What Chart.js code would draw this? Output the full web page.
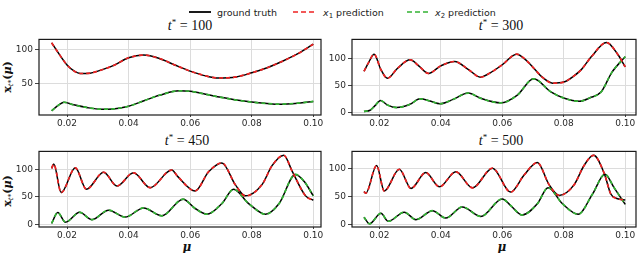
<!DOCTYPE html>
<html>
<head>
<meta charset="utf-8">
<script src="https://cdn.jsdelivr.net/npm/chart.js@4.4.1/dist/chart.umd.min.js"></script>
<style>
body { margin: 0; background: #fff; width: 640px; height: 253px; overflow: hidden; position: relative; font-family: "DejaVu Sans", sans-serif; }
canvas { position: absolute; }
.lg { position: absolute; top: 6px; font-size: 9.5px; line-height: 13px; color: #222; white-space: nowrap; }
.lg sub { font-size: 7px; vertical-align: -2px; }
.lgline { position: absolute; top: 9px; }
.title { position: absolute; font-family: "Liberation Serif", serif; font-size: 14px; transform: translate(-50%, -50%); white-space: nowrap; color: #111; }
.title sup { font-size: 9px; vertical-align: 5px; }
.ylab { position: absolute; font-family: "DejaVu Serif", serif; font-weight: bold; font-size: 11px; transform: translate(-50%, -50%) rotate(-90deg); white-space: nowrap; color: #111; }
.ylab sub { font-size: 7px; font-weight: normal; font-style: italic; vertical-align: -2px; }
.xlab { position: absolute; font-family: "DejaVu Serif", serif; font-weight: bold; font-style: italic; font-size: 12px; transform: translate(-50%, -50%); color: #111; }
</style>
</head>
<body>
<svg class="lgline" style="left:189px" width="22" height="6"><line x1="0" y1="3" x2="22" y2="3" stroke="#000" stroke-width="1.8"/></svg>
<div class="lg" style="left:217px">ground truth</div>
<svg class="lgline" style="left:293px" width="24" height="6"><line x1="0" y1="3" x2="24" y2="3" stroke="#ee2222" stroke-width="1.6" stroke-dasharray="5,3"/></svg>
<div class="lg" style="left:323px"><i>x</i><sub>1</sub> prediction</div>
<svg class="lgline" style="left:407px" width="24" height="6"><line x1="0" y1="3" x2="24" y2="3" stroke="#33b333" stroke-width="1.6" stroke-dasharray="5,3"/></svg>
<div class="lg" style="left:435px"><i>x</i><sub>2</sub> prediction</div>

<div class="title" style="left:190px;top:25px"><i>t</i><sup>*</sup> = 100</div>
<div class="title" style="left:501px;top:25px"><i>t</i><sup>*</sup> = 300</div>
<div class="title" style="left:187px;top:140px"><i>t</i><sup>*</sup> = 450</div>
<div class="title" style="left:501px;top:140px"><i>t</i><sup>*</sup> = 500</div>

<div class="ylab" style="left:8px;top:77px">x<sub>t*</sub>(<i>μ</i>)</div>
<div class="ylab" style="left:8px;top:191px">x<sub>t*</sub>(<i>μ</i>)</div>
<div class="xlab" style="left:187px;top:247px">μ</div>
<div class="xlab" style="left:502px;top:247px">μ</div>

<canvas id="c1"></canvas>
<canvas id="c2"></canvas>
<canvas id="c3"></canvas>
<canvas id="c4"></canvas>

<script>
// tick values
var xTicks = [0.02, 0.04, 0.06, 0.08, 0.10];
var yTicksTop = [50, 100];
var yTicks = [0, 50, 100];

// t* = 100
var p1Mu1 = [0.015, 0.0175, 0.02, 0.0225, 0.0243, 0.0275, 0.03, 0.035, 0.04, 0.0449, 0.05, 0.055, 0.06, 0.065, 0.069, 0.075, 0.08, 0.085, 0.09, 0.095, 0.10];
var p1X1 = [110, 93, 77.5, 68, 65, 65.5, 68.5, 76.5, 88, 92, 87, 77.5, 68.5, 61.5, 58.4, 60, 66, 73.5, 83, 94, 108];
var p1Mu2 = [0.015, 0.0168, 0.019, 0.0222, 0.0265, 0.031, 0.035, 0.04, 0.045, 0.05, 0.0565, 0.06, 0.065, 0.07, 0.075, 0.08, 0.085, 0.089, 0.095, 0.10];
var p1X2 = [10.3, 17, 22.8, 19, 15, 12.6, 13, 17, 25, 33, 39.5, 38.8, 34.6, 30, 26, 23, 21, 20, 21.5, 24];

// t* = 300
var p2Mu1 = [0.015, 0.0165, 0.0183, 0.0205, 0.0226, 0.026, 0.030, 0.033, 0.0359, 0.040, 0.0445, 0.049, 0.0529, 0.0562, 0.06, 0.0647, 0.068, 0.0705, 0.073, 0.0764, 0.08, 0.083, 0.0857, 0.089, 0.0939, 0.0977, 0.10];
var p2X1 = [76, 92, 107.5, 79, 63, 82, 97, 85, 72, 86, 94, 79, 65, 73.5, 88, 107.5, 95, 80, 65, 54, 56, 66, 79, 103, 129, 106, 84];
var p2Mu2 = [0.015, 0.017, 0.0185, 0.0204, 0.0225, 0.0256, 0.030, 0.0332, 0.0365, 0.0397, 0.044, 0.0489, 0.053, 0.0595, 0.0649, 0.0702, 0.0758, 0.0802, 0.0851, 0.0885, 0.0922, 0.0956, 0.10];
var p2X2 = [1.8, 4, 12, 22, 14, 9, 15, 25, 21, 16, 24, 35.6, 26, 17.6, 32, 62, 38, 26, 20.6, 27, 38, 73.5, 103];

// t* = 450
var p3Mu1 = [0.015, 0.0157, 0.0181, 0.0227, 0.0263, 0.0319, 0.0362, 0.0416, 0.047, 0.054, 0.056, 0.0616, 0.066, 0.0703, 0.0747, 0.0779, 0.0834, 0.0866, 0.0904, 0.0932, 0.0975, 0.10];
var p3X1 = [102, 110, 58, 103, 64, 95, 70, 94, 67, 99, 87, 61, 96, 112, 72, 52, 73, 107, 126, 96, 52, 44];
var p3Mu2 = [0.015, 0.017, 0.0195, 0.0241, 0.0281, 0.0335, 0.0389, 0.0449, 0.0508, 0.0577, 0.0616, 0.0654, 0.0703, 0.0741, 0.079, 0.0845, 0.0889, 0.0942, 0.097, 0.10];
var p3X2 = [2, 21.5, 4, 22, 8.7, 26, 13.4, 30, 15.7, 46, 29, 18.6, 38, 64, 38, 18.6, 38, 91, 78.5, 52];

// t* = 500
var p4Mu1 = [0.015, 0.0156, 0.0191, 0.0216, 0.0265, 0.0303, 0.0351, 0.0395, 0.0449, 0.0503, 0.0568, 0.0627, 0.0671, 0.0714, 0.0752, 0.0785, 0.0834, 0.0866, 0.0897, 0.0932, 0.0953, 0.0975, 0.10];
var p4X1 = [59, 56, 105.7, 60, 99, 64.6, 93, 67.4, 94.3, 65.7, 101, 58, 88.6, 111, 71.4, 52, 71.4, 105.7, 124, 91, 54.6, 46, 44];
var p4Mu2 = [0.015, 0.0168, 0.0205, 0.0229, 0.0281, 0.0319, 0.0373, 0.0416, 0.047, 0.053, 0.06, 0.0627, 0.0665, 0.0714, 0.0749, 0.0796, 0.0847, 0.0893, 0.0934, 0.0964, 0.10];
var p4X2 = [13, 1.1, 20, 5.7, 22, 8.6, 24.6, 11.4, 31.4, 14.3, 45.7, 34, 17, 37, 65.7, 37, 18.3, 54, 90, 65.7, 36];

var RED = '#ee2222', GREEN = '#33b333';

function toPoints(mu, val) {
    var out = [];
    for (var i = 0; i < mu.length; i++) {
        out.push({x: mu[i], y: val[i]});
    }
    return out;
}

var framePlugin = {
    id: 'frame',
    afterDraw: function(chart) {
        var a = chart.chartArea, ctx = chart.ctx;
        ctx.save();
        ctx.strokeStyle = '#1a1a1a';
        ctx.lineWidth = 1.2;
        ctx.strokeRect(a.left, a.top, a.right - a.left, a.bottom - a.top);
        ctx.restore();
    }
};

// box = chart area in page pixels
function makePanel(id, box, xr, yr, yT, mu1, x1, mu2, x2) {
    var yAxisW = 30, padTop = 4, padRight = 4, xAxisH = 14;
    var canvas = document.getElementById(id);
    var w = box.r - box.l + yAxisW + padRight;
    var h = box.b - box.t + padTop + xAxisH;
    canvas.width = w;
    canvas.height = h;
    canvas.style.left = (box.l - yAxisW) + 'px';
    canvas.style.top = (box.t - padTop) + 'px';
    canvas.style.width = w + 'px';
    canvas.style.height = h + 'px';

    var line = function(data, color, width, dash, order) {
        return {
            data: data,
            borderColor: color,
            borderWidth: width,
            borderDash: dash,
            pointRadius: 0,
            fill: false,
            cubicInterpolationMode: 'monotone',
            order: order
        };
    };

    new Chart(canvas.getContext('2d'), {
        type: 'line',
        data: {
            datasets: [
                line(toPoints(mu1, x1), RED, 1.7, [4, 3], 0),
                line(toPoints(mu2, x2), GREEN, 1.7, [4, 3], 0),
                line(toPoints(mu1, x1), '#000', 1.5, [], 1),
                line(toPoints(mu2, x2), '#000', 1.5, [], 1)
            ]
        },
        options: {
            responsive: false,
            animation: false,
            devicePixelRatio: 1,
            layout: { padding: { top: padTop, right: padRight, left: 0, bottom: 0 } },
            plugins: { legend: { display: false }, tooltip: { enabled: false }, title: { display: false } },
            scales: {
                x: {
                    type: 'linear',
                    min: xr[0],
                    max: xr[1],
                    afterBuildTicks: function(s) { s.ticks = xTicks.map(function(v) { return {value: v}; }); },
                    afterFit: function(s) { s.height = xAxisH; },
                    grid: { color: '#dcdcdc', lineWidth: 1, drawTicks: true, tickLength: 2, tickColor: '#444' },
                    border: { display: false },
                    ticks: {
                        padding: 1,
                        maxRotation: 0,
                        autoSkip: false,
                        color: '#2a2a2a',
                        font: { family: 'DejaVu Sans', size: 9 },
                        callback: function(v) { return v.toFixed(2); }
                    }
                },
                y: {
                    min: yr[0],
                    max: yr[1],
                    afterBuildTicks: function(s) { s.ticks = yT.map(function(v) { return {value: v}; }); },
                    afterFit: function(s) { s.width = yAxisW; },
                    grid: { color: '#dcdcdc', lineWidth: 1, drawTicks: true, tickLength: 4, tickColor: '#444' },
                    border: { display: false },
                    ticks: {
                        padding: 2,
                        autoSkip: false,
                        color: '#2a2a2a',
                        font: { family: 'DejaVu Sans', size: 9 },
                        callback: function(v) { return String(v); }
                    }
                }
            }
        },
        plugins: [framePlugin]
    });
}

makePanel('c1', {l: 39, r: 321, t: 36, b: 115}, [0.0109, 0.1025], [4.1, 115], yTicksTop, p1Mu1, p1X1, p1Mu2, p1X2);
makePanel('c2', {l: 352, r: 636, t: 36, b: 115}, [0.0111, 0.1035], [-4.8, 134.8], yTicks, p2Mu1, p2X1, p2Mu2, p2X2);
makePanel('c3', {l: 39, r: 321, t: 148, b: 227}, [0.0109, 0.1025], [-4.7, 133], yTicks, p3Mu1, p3X1, p3Mu2, p3X2);
makePanel('c4', {l: 352, r: 636, t: 148, b: 227}, [0.0111, 0.1035], [-4.6, 131], yTicks, p4Mu1, p4X1, p4Mu2, p4X2);
</script>
</body>
</html>
